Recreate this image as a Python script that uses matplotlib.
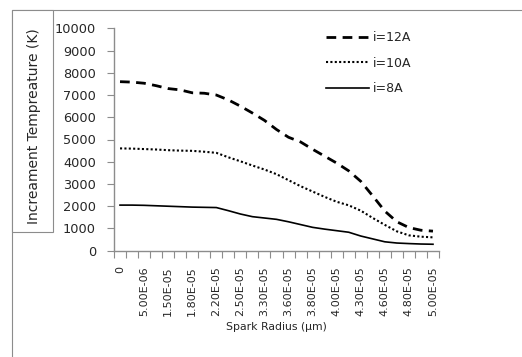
import numpy as np
import matplotlib
matplotlib.use("Agg")
import matplotlib.pyplot as plt
from matplotlib.patches import Rectangle
from matplotlib.ticker import FixedLocator, NullFormatter

# every other category carries a label on the Excel axis
radius_labels = ["0", "5.00E-06", "1.50E-05", "1.80E-05", "2.20E-05", "2.50E-05",
                 "3.30E-05", "3.60E-05", "3.80E-05", "4.00E-05", "4.30E-05",
                 "4.60E-05", "4.80E-05", "5.00E-05"]
series_names = ["i=12A", "i=10A", "i=8A"]
t_12A = [7600, 7580, 7530, 7420, 7290, 7230, 7100, 7080, 7000, 6780, 6500, 6190, 5860, 5450,
         5100, 4890, 4560, 4250, 3940, 3590, 3120, 2460, 1780, 1300, 1040, 920, 880]
t_10A = [4600, 4590, 4570, 4550, 4520, 4500, 4490, 4450, 4400, 4200, 4020, 3830, 3650, 3440,
         3170, 2900, 2660, 2420, 2200, 2040, 1800, 1470, 1160, 870, 690, 630, 600]
t_8A = [2050, 2050, 2040, 2020, 2000, 1980, 1960, 1950, 1940, 1800, 1650, 1530, 1470, 1410,
        1300, 1175, 1050, 970, 900, 830, 660, 530, 400, 345, 320, 300, 290]

W, H = 522, 357
grey = "#8c8c8c"
txt = "#262626"

fig = plt.figure(figsize=(W/100, H/100), dpi=100)
fig.patch.set_facecolor("white")

# chart area border (runs off the right and bottom edge) and the y title box
fig.add_artist(Rectangle((12/W, -0.2), 1.0, 1 - 10/H + 0.2, transform=fig.transFigure,
                         fill=False, edgecolor=grey, lw=0.8))
fig.add_artist(Rectangle((12/W, 1 - 232/H), 41/W, 222/H, transform=fig.transFigure,
                         facecolor="white", edgecolor=grey, lw=0.8))
fig.text(34/W, 1 - 126/H, "Increament Tempreature (K)", rotation=90, ha="center",
         va="center", fontsize=10, color=txt)

ax = fig.add_axes([114/W, 1 - 250.7/H, (439 - 114)/W, (250.7 - 28.3)/H])
x = np.arange(len(t_12A))
ax.plot(x, t_12A, color="black", lw=2.0, dashes=(3.5, 2.3), label=series_names[0])
ax.plot(x, t_10A, color="black", lw=1.5, dashes=(1.0, 1.1), label=series_names[1])
ax.plot(x, t_8A, color="black", lw=1.2, label=series_names[2])

ax.set_xlim(-0.5, len(x) - 0.5)
ax.set_ylim(0, 10000)
ax.set_yticks(np.arange(0, 10001, 1000))
ax.set_xticks(x[::2])
ax.set_xticklabels(radius_labels, rotation=90)
ax.xaxis.set_minor_locator(FixedLocator(np.arange(-0.5, len(x), 1.0)))
ax.xaxis.set_minor_formatter(NullFormatter())
ax.tick_params(axis="x", which="major", length=0, pad=11, labelsize=8, labelcolor=txt)
ax.tick_params(axis="x", which="minor", length=5, width=0.8, color=grey, direction="out")
ax.tick_params(axis="y", length=5, width=0.8, color=grey, pad=8, labelsize=9.3, labelcolor=txt)
for s in ["top", "right"]:
    ax.spines[s].set_visible(False)
for s in ["left", "bottom"]:
    ax.spines[s].set_color(grey)
    ax.spines[s].set_linewidth(1.0)

ax.set_xlabel("Spark Radius (µm)", fontsize=7.8, color=txt, va="center")
ax.xaxis.set_label_coords(0.5, (250.7 - 327)/222.4)

ax.legend(loc="upper left", bbox_to_anchor=(326/W, 1 - 31/H), bbox_transform=fig.transFigure,
          frameon=False, fontsize=9, handlelength=3.4, handletextpad=0.35, labelspacing=1.02,
          borderpad=0, borderaxespad=0, labelcolor=txt)

fig.savefig("out.png", dpi=100)
